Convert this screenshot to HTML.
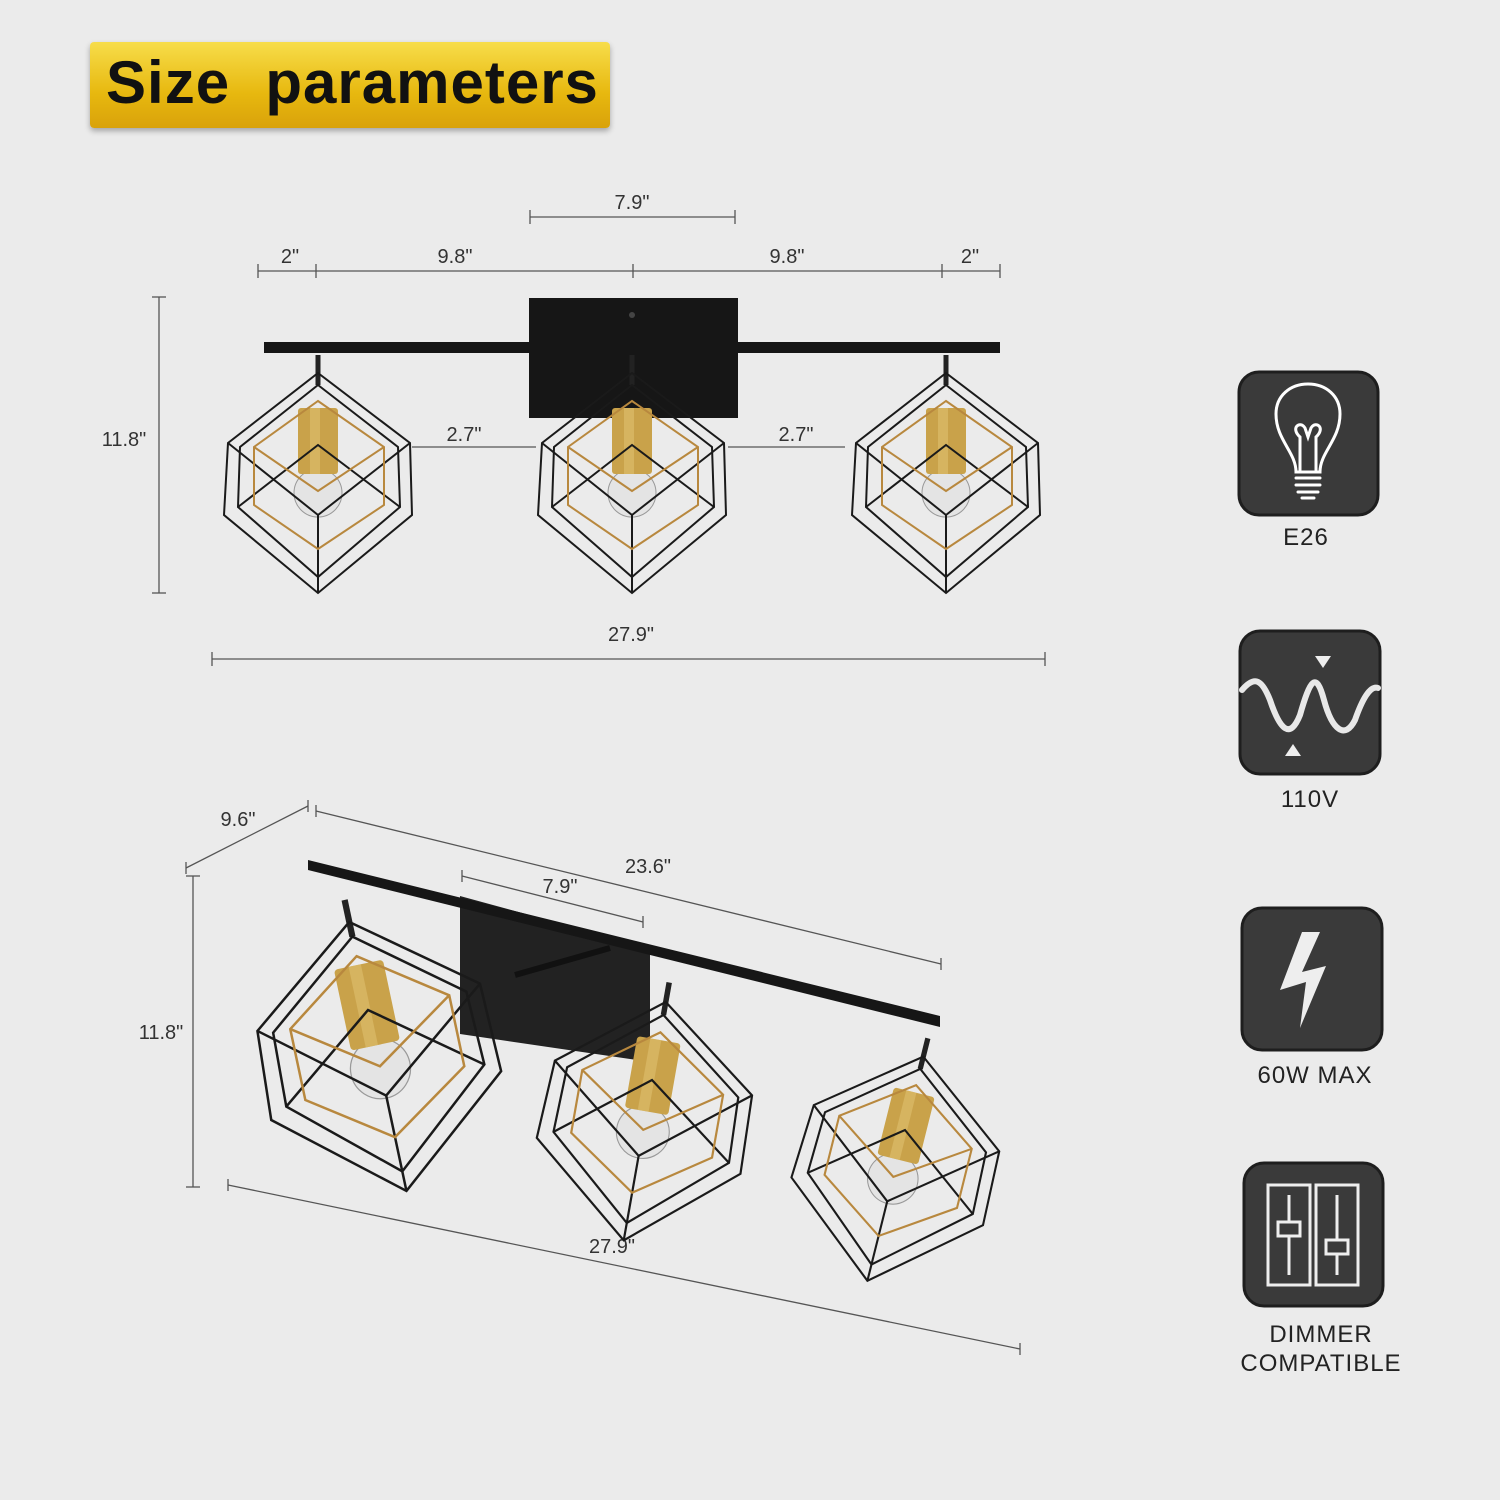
<!DOCTYPE html>
<html><head><meta charset="utf-8"><style>
html,body{margin:0;padding:0;background:#ebebeb;}
#c{position:relative;width:1500px;height:1500px;overflow:hidden;background:#ebebeb;font-family:"Liberation Sans",sans-serif;}
.title{position:absolute;left:90px;top:42px;width:520px;height:86px;border-radius:4px;background:linear-gradient(#f7dd4a,#e7b80f 60%,#d9a20a);box-shadow:0 3px 6px rgba(0,0,0,.3);}
.title span{position:absolute;left:16px;top:6px;font-size:60px;font-weight:bold;color:#111;letter-spacing:1px;white-space:pre;}
.lbl{position:absolute;font-size:24px;color:#222;text-align:center;width:220px;letter-spacing:1px;}
</style></head><body><div id="c">
<div class="title"><span>Size  parameters</span></div>
<svg width="1500" height="1500" style="position:absolute;left:0;top:0" font-family="Liberation Sans, sans-serif">
<defs>
<g id="lamp">
 <line x1="0" y1="-90" x2="0" y2="-60" stroke="#222" stroke-width="5"/>
 <circle cx="0" cy="48" r="24" fill="#ddd" fill-opacity=".5" stroke="#999" stroke-width="1"/>
 <rect x="-20" y="-37" width="40" height="66" rx="3" fill="#c9a24a"/>
 <rect x="-8" y="-37" width="10" height="66" fill="#e0c070" opacity=".6"/>
 <polygon points="0,-72 92,-2 94,70 0,148 -94,70 -90,-2" fill="none" stroke="#1a1a1a" stroke-width="2"/>
 <polygon points="0,-60 80,2 82,62 0,132 -80,62 -78,2" fill="none" stroke="#1a1a1a" stroke-width="2"/>
 <polyline points="-90,-2 0,70 92,-2" fill="none" stroke="#1a1a1a" stroke-width="2"/>
 <polyline points="-80,62 0,0 82,62" fill="none" stroke="#1a1a1a" stroke-width="2"/>
 <line x1="0" y1="70" x2="0" y2="148" stroke="#1a1a1a" stroke-width="2"/>
 <polygon points="0,-44 66,2 66,60 0,104 -64,60 -64,2" fill="none" stroke="#b8883e" stroke-width="2"/>
 <polyline points="-64,2 0,46 66,2" fill="none" stroke="#b8883e" stroke-width="2"/>
</g>
</defs>
<g stroke="#555" stroke-width="1.3" fill="none">
 <line x1="530" y1="217" x2="735" y2="217"/><line x1="530" y1="210" x2="530" y2="224"/><line x1="735" y1="210" x2="735" y2="224"/>
 <line x1="258" y1="271" x2="1000" y2="271"/>
 <line x1="258" y1="264" x2="258" y2="278"/><line x1="316" y1="264" x2="316" y2="278"/><line x1="633" y1="264" x2="633" y2="278"/><line x1="942" y1="264" x2="942" y2="278"/><line x1="1000" y1="264" x2="1000" y2="278"/>
 <line x1="159" y1="297" x2="159" y2="593"/><line x1="152" y1="297" x2="166" y2="297"/><line x1="152" y1="593" x2="166" y2="593"/>
 <line x1="212" y1="659" x2="1045" y2="659"/><line x1="212" y1="652" x2="212" y2="666"/><line x1="1045" y1="652" x2="1045" y2="666"/>
 <line x1="412" y1="447" x2="536" y2="447"/><line x1="728" y1="447" x2="845" y2="447"/>
 <line x1="186" y1="868" x2="308" y2="806"/><line x1="186" y1="862" x2="186" y2="874"/><line x1="308" y1="800" x2="308" y2="812"/>
 <line x1="316" y1="811" x2="941" y2="964"/><line x1="316" y1="805" x2="316" y2="817"/><line x1="941" y1="958" x2="941" y2="970"/>
 <line x1="462" y1="876" x2="643" y2="922"/><line x1="462" y1="870" x2="462" y2="882"/><line x1="643" y1="916" x2="643" y2="928"/>
 <line x1="193" y1="876" x2="193" y2="1187"/><line x1="186" y1="876" x2="200" y2="876"/><line x1="186" y1="1187" x2="200" y2="1187"/>
 <line x1="228" y1="1185" x2="1020" y2="1349"/><line x1="228" y1="1179" x2="228" y2="1191"/><line x1="1020" y1="1343" x2="1020" y2="1355"/>
</g>
<g font-size="20" fill="#333" text-anchor="middle">
 <text x="632" y="209">7.9"</text>
 <text x="290" y="263">2"</text><text x="455" y="263">9.8"</text><text x="787" y="263">9.8"</text><text x="970" y="263">2"</text>
 <text x="124" y="446">11.8"</text>
 <text x="464" y="441">2.7"</text><text x="796" y="441">2.7"</text>
 <text x="631" y="641">27.9"</text>
 <text x="238" y="826">9.6"</text><text x="648" y="873">23.6"</text><text x="560" y="893">7.9"</text>
 <text x="161" y="1039">11.8"</text><text x="612" y="1253">27.9"</text>
</g>
<rect x="529" y="298" width="209" height="120" fill="#161616"/>
<circle cx="632" cy="315" r="3" fill="#444"/>
<rect x="264" y="342" width="736" height="11" fill="#161616"/>
<use href="#lamp" x="318" y="445"/>
<use href="#lamp" x="632" y="445"/>
<use href="#lamp" x="946" y="445"/>
<polygon points="460,896 650,948 650,1062 460,1034" fill="#222"/>
<line x1="515" y1="975" x2="610" y2="948" stroke="#111" stroke-width="6"/>
<polygon points="308,860 940,1016 940,1027 308,870" fill="#161616"/>
<g transform="translate(368,1010) rotate(-12) scale(1.25)"><use href="#lamp"/></g>
<g transform="translate(652,1080) rotate(10) scale(1.1)"><use href="#lamp"/></g>
<g transform="translate(905,1130) rotate(14) scale(1.05)"><use href="#lamp"/></g>
<g fill="#3a3a3a" stroke="#1e1e1e" stroke-width="3">
 <rect x="1239" y="372" width="139" height="143" rx="20"/>
 <rect x="1240" y="631" width="140" height="143" rx="20"/>
 <rect x="1242" y="908" width="140" height="142" rx="20"/>
 <rect x="1244" y="1163" width="139" height="143" rx="20"/>
</g>
<g fill="none" stroke="#fff" stroke-width="3" stroke-linecap="round">
 <path d="M1296,472 C1296,452 1276,440 1276,414 C1276,396 1290,384 1308,384 C1326,384 1340,396 1340,414 C1340,440 1320,452 1320,472 Z"/>
 <path d="M1300,470 V437 M1316,470 V437 M1300,437 C1290,428 1300,420 1305,428 L1308,437 L1311,428 C1316,420 1326,428 1316,437"/>
 <path d="M1296,478 H1320 M1296,485 H1320 M1298,492 H1318 M1302,498 H1314"/>
 <path d="M1242,690 C1255,675 1262,680 1270,700 C1280,730 1290,740 1300,715 C1310,680 1316,670 1324,700 C1332,730 1345,740 1355,720 C1362,700 1370,685 1378,688" stroke="#e8e8e8" stroke-width="6"/>
</g>
<polygon points="1315,656 1331,656 1323,668" fill="#eee"/>
<polygon points="1285,756 1301,756 1293,744" fill="#eee"/>
<polygon points="1302,932 1280,990 1306,982 1300,1028 1326,966 1302,972 1320,932" fill="#eee"/>
<g fill="none" stroke="#eee" stroke-width="3">
 <rect x="1268" y="1185" width="42" height="100"/><rect x="1316" y="1185" width="42" height="100"/>
 <line x1="1289" y1="1195" x2="1289" y2="1275"/><line x1="1337" y1="1195" x2="1337" y2="1275"/>
 <rect x="1278" y="1222" width="22" height="14" fill="#3a3a3a"/><rect x="1326" y="1240" width="22" height="14" fill="#3a3a3a"/>
</g>
</svg>
<div class="lbl" style="left:1196px;top:524px">E26</div>
<div class="lbl" style="left:1200px;top:786px">110V</div>
<div class="lbl" style="left:1205px;top:1062px">60W MAX</div>
<div class="lbl" style="left:1211px;top:1320px;line-height:29px">DIMMER<br>COMPATIBLE</div>
</div></body></html>
